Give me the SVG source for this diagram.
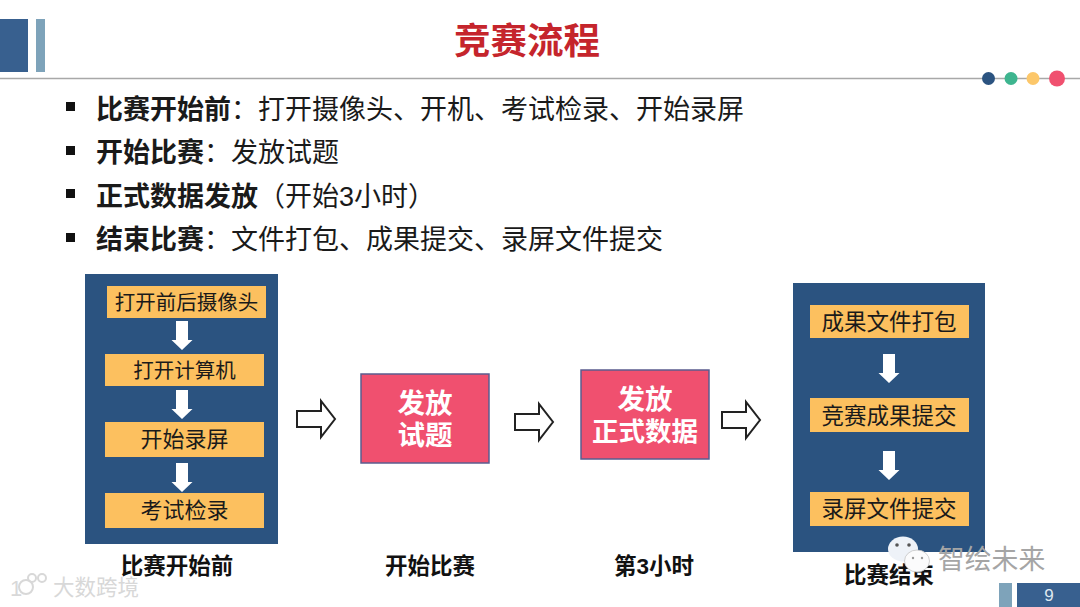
<svg xmlns="http://www.w3.org/2000/svg" width="1080" height="607" viewBox="0 0 1080 607">
<style>
text{font-family:"Liberation Sans","Noto Sans CJK SC",sans-serif;fill:#1a1a1a}
.b{font-weight:700}
.bl{font-size:27px}
.st{font-size:22px;text-anchor:middle}
.cap{font-size:22.5px;font-weight:700;text-anchor:middle;fill:#111}
.navy{fill:#2b5380}
.gold{fill:#fcc05f}
.pink{fill:#f0506f;stroke:#5b5c8e;stroke-width:1.5}
.pt{font-size:27.500px;font-weight:700;fill:#fff;text-anchor:middle}
.wa{fill:#fff}
.oa{fill:#fff;stroke:#222;stroke-width:2}
</style>
<defs>
<path id="wd" d="M-6-13H6V6H10.500L0 16-10.500 6H-6Z"/>
<path id="oa" d="M0-8H24V-18L38 0 24 18V8H0Z"/>
</defs>
<rect width="1080" height="607" fill="#fff"/>
<g id="header">
<rect x="0" y="19" width="28" height="53" fill="#38608f"/>
<rect x="36" y="19" width="9" height="53" fill="#7ea3ba"/>
<line x1="0" y1="78.500" x2="1080" y2="78.500" stroke="#a8a8a8" stroke-width="1.500"/>
<circle cx="988.500" cy="78.500" r="6.500" fill="#2b5380"/>
<circle cx="1011" cy="78.500" r="6.500" fill="#3eb58f"/>
<circle cx="1033" cy="78.500" r="6.500" fill="#fcc76a"/>
<circle cx="1057" cy="78.500" r="8" fill="#f0506f"/>
<text x="527" y="54" font-size="36.500" font-weight="700" text-anchor="middle" style="fill:#c5252c">竞赛流程</text>
</g>
<g id="bullets">
<rect x="66" y="102" width="9" height="9" fill="#111"/>
<rect x="66" y="146" width="9" height="9" fill="#111"/>
<rect x="66" y="189" width="9" height="9" fill="#111"/>
<rect x="66" y="233" width="9" height="9" fill="#111"/>
<text class="bl" x="96" y="119"><tspan class="b">比赛开始前</tspan>：打开摄像头、开机、考试检录、开始录屏</text>
<text class="bl" x="96" y="162"><tspan class="b">开始比赛</tspan>：发放试题</text>
<text class="bl" x="96" y="206"><tspan class="b">正式数据发放</tspan>（开始3小时）</text>
<text class="bl" x="96" y="249"><tspan class="b">结束比赛</tspan>：文件打包、成果提交、录屏文件提交</text>
</g>
<g id="node-before">
<rect class="navy" x="85" y="274" width="193" height="270"/>
<rect class="gold" x="107" y="286" width="159" height="32"/>
<text class="st" x="186.500" y="310" style="font-size:20.500px">打开前后摄像头</text>
<rect class="gold" x="105" y="354" width="159" height="32"/>
<text class="st" x="184.500" y="378" style="font-size:20.500px">打开计算机</text>
<rect class="gold" x="105" y="422" width="159" height="35"/>
<text class="st" x="184.500" y="447">开始录屏</text>
<rect class="gold" x="105" y="493" width="159" height="35"/>
<text class="st" x="184.500" y="518">考试检录</text>
<use href="#wd" class="wa" x="182" y="334"/>
<use href="#wd" class="wa" x="182" y="403"/>
<use href="#wd" class="wa" x="182" y="476"/>
<text class="cap" x="177" y="574">比赛开始前</text>
</g>
<g id="node-start">
<rect class="pink" x="361" y="374" width="128" height="89"/>
<text class="pt" x="425" y="413">发放</text>
<text class="pt" x="425" y="445">试题</text>
<text class="cap" x="430" y="574">开始比赛</text>
</g>
<g id="node-data">
<rect class="pink" x="581" y="370" width="128" height="89"/>
<text class="pt" x="645" y="409">发放</text>
<text class="pt" x="645" y="441" style="font-size:26.500px">正式数据</text>
<text class="cap" x="654" y="574">第3小时</text>
</g>
<g id="node-end">
<rect class="navy" x="793" y="283" width="192" height="269"/>
<rect class="gold" x="810" y="305" width="159" height="33"/>
<text class="st" x="889" y="330" style="font-size:22.500px">成果文件打包</text>
<rect class="gold" x="810" y="398" width="159" height="34"/>
<text class="st" x="889" y="424" style="font-size:22.500px">竞赛成果提交</text>
<rect class="gold" x="810" y="492" width="159" height="34"/>
<text class="st" x="889" y="517" style="font-size:22.500px">录屏文件提交</text>
<use href="#wd" class="wa" x="889" y="367"/>
<use href="#wd" class="wa" x="889" y="464"/>
<text class="cap" x="889" y="583">比赛结束</text>
</g>
<g id="connectors">
<use href="#oa" class="oa" x="297" y="419"/>
<use href="#oa" class="oa" x="515" y="422"/>
<use href="#oa" class="oa" x="722" y="420"/>
</g>
<g id="footer">
<rect x="999" y="583" width="13" height="24" fill="#7ea3ba"/>
<rect x="1017" y="583" width="63" height="24" fill="#38608f"/>
<text x="1049" y="601" font-size="17" text-anchor="middle" style="fill:#dfe8f0">9</text>
</g>
<g id="watermarks">
<ellipse cx="903" cy="549" rx="15" ry="12.500" fill="#eef2f8"/>
<circle cx="897" cy="545" r="1.800" fill="#555"/>
<circle cx="909" cy="545" r="1.800" fill="#555"/>
<ellipse cx="917" cy="561" rx="12.500" ry="11" fill="#fbfbfc" stroke="#c4c4c4" stroke-width="0.800"/>
<circle cx="913" cy="558" r="1.200" fill="#999"/>
<circle cx="922" cy="558" r="1.200" fill="#999"/>
<text x="938" y="569" font-size="26.800" style="fill:#a5a5a5">智绘未来</text>
<text x="53" y="595" font-size="21.500" style="fill:#d8d8d8">大数跨境</text>
<text x="10" y="596" font-size="22" style="fill:#d8d8d8">1</text>
<circle cx="26" cy="587" r="7" fill="none" stroke="#d8d8d8" stroke-width="2"/>
<circle cx="32" cy="578" r="4" fill="none" stroke="#d8d8d8" stroke-width="2"/>
<circle cx="42" cy="578" r="4" fill="none" stroke="#d8d8d8" stroke-width="2"/>
</g>
</svg>
